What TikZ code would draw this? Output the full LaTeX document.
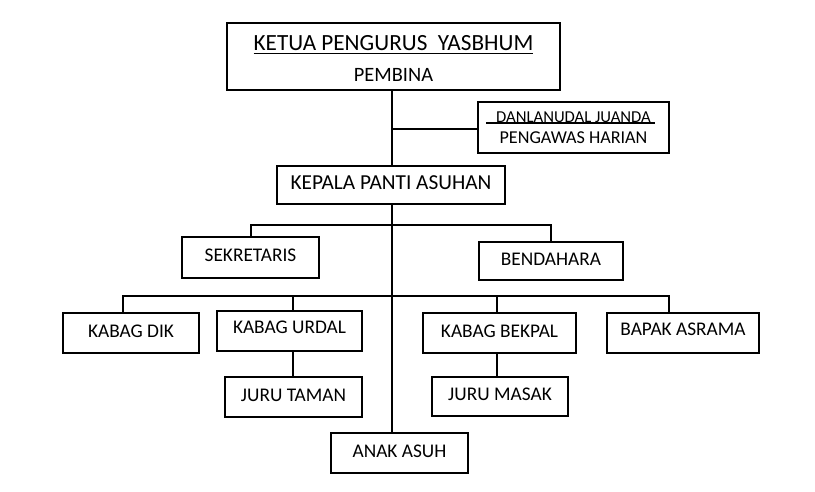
\documentclass[tikz,border=0pt]{standalone}
\usepackage{fontspec}
\setmainfont{Carlito}
\usetikzlibrary{calc}
\begin{document}
\begin{tikzpicture}[x=0.75pt,y=-0.75pt,
  box/.style={draw, line width=1.5pt, inner sep=0pt, font=\fontsize{14.5}{17}\selectfont},
  one/.style={text height=9.5pt, text depth=3pt},
  sz/.style 2 args={minimum width={#1*0.75pt}, minimum height={#2*0.75pt}},
  conn/.style={line width=1.5pt}]
\useasboundingbox (0,0) rectangle (815,492);
% boxes
\node[box, sz={333}{67}, align=center] (top) at (393.5,56.5)
  {\rule{0pt}{15pt}{\fontsize{17.4}{17}\selectfont\underline{KETUA PENGURUS\ \ YASBHUM}}\\[6.25pt]{\fontsize{15.3}{17}\selectfont PEMBINA}};
\node[box, sz={191}{51}, align=center, font=\fontsize{12.5}{15.75}\selectfont] (dan) at (573.5,127.5)
  {\rule{0pt}{8.6pt}DANLANUDAL JUANDA\\{\fontsize{13.6}{15.75}\selectfont PENGAWAS HARIAN}};
\node[box, one, sz={228}{38}, font=\fontsize{16}{19}\selectfont] (kepala) at (391,185) {KEPALA PANTI ASUHAN};
\node[box, one, sz={137}{41}] (sek) at (250.5,257.5) {SEKRETARIS};
\node[box, one, sz={144}{38}] (bend) at (551,261) {BENDAHARA};
\node[box, one, sz={136}{40}] (dik) at (131,333) {KABAG DIK};
\node[box, one, sz={145}{40}] (urdal) at (289.5,331) {\raisebox{1.5pt}{KABAG URDAL}};
\node[box, one, sz={137}{40}] (taman) at (293.5,397) {JURU TAMAN};
\node[box, one, sz={153}{40}] (bekpal) at (499.5,333) {KABAG BEKPAL};
\node[box, one, sz={136}{39}] (masak) at (500,396.5) {JURU MASAK};
\node[box, one, sz={152}{40}] (bapak) at (683,333) {\raisebox{1.5pt}{BAPAK ASRAMA}};
\node[box, one, sz={137}{40}] (anak) at (399.5,453) {ANAK ASUH};
% divider inside DANLANUDAL box
\draw[line width=1.2pt] ($(dan.west)+(9,-4.5)$) -- ($(dan.east)+(-15,-4.5)$);
% connectors
\coordinate (tr) at (392,0);
\coordinate (dj) at (392,129);
\coordinate (bus1) at (392,225);
\coordinate (b2l) at (123,296);
\coordinate (b2r) at (669,296);
\coordinate (d2) at (293,296);
\coordinate (d3) at (497,296);
\draw[conn] (top.south -| tr) -- (kepala.north -| tr);
\draw[conn] (kepala.south -| tr) -- (anak.north -| tr);
\draw[conn] (dj) -- (dj -| dan.west);
\draw[conn] (sek.north) |- (bus1) -| (bend.north);
\draw[conn] (b2l |- dik.north) -- (b2l) -- (b2r) -- (b2r |- bapak.north);
\draw[conn] (d2) -- (d2 |- urdal.north);
\draw[conn] (d2 |- urdal.south) -- (d2 |- taman.north);
\draw[conn] (d3) -- (d3 |- bekpal.north);
\draw[conn] (d3 |- bekpal.south) -- (d3 |- masak.north);
\end{tikzpicture}
\end{document}
